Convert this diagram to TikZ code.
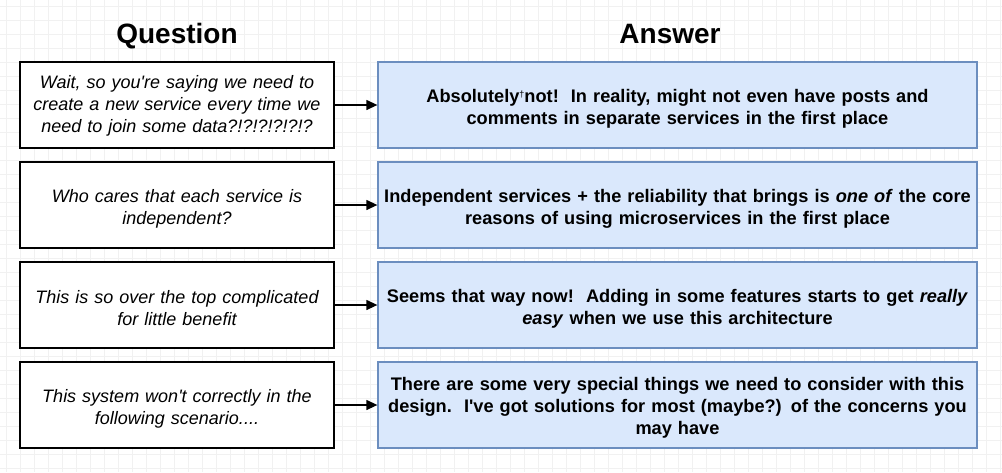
\documentclass[tikz,border=0pt]{standalone}
\usepackage{fontspec}
\setmainfont{Liberation Sans}
\usetikzlibrary{arrows.meta}
\definecolor{gridc}{HTML}{F1F1F1}
\definecolor{ansfill}{HTML}{DAE8FC}
\definecolor{ansdraw}{HTML}{6C8EBF}
\newcommand{\sq}{\textquotesingle}
\tikzset{
  qbox/.style={draw=black, line width=1.3pt, fill=white, minimum width=314pt, minimum height=86pt, text width=306pt, align=center, inner sep=0pt,
    font=\fontsize{18}{22}\selectfont\itshape},
  abox/.style={draw=ansdraw, line width=1.3pt, fill=ansfill, minimum width=599pt, minimum height=86pt, text width=590pt, align=center, inner sep=0pt,
    font=\fontsize{18.2}{22}\selectfont\bfseries},
  downby/.style={execute at begin node={\rule{0pt}{#1}}},
  title/.style={font=\fontsize{28}{32}\selectfont\bfseries, anchor=base},
  conn/.style={-{Triangle[length=11pt,width=10pt]}, line width=1.3pt},
}
\begin{document}
\begin{tikzpicture}[x=1pt,y=-1pt]
\useasboundingbox (0,0) rectangle (1002,472);
\fill[white] (0,0) rectangle (1002,472);
\foreach \i in {0,...,72} {\draw[gridc, line width=0.8pt] (6+14*\i,0) -- (6+14*\i,472);}
\foreach \j in {0,...,34} {\draw[gridc, line width=0.8pt] (0,6+14*\j) -- (1002,6+14*\j);}
\node[title] (tq) at (177,43) {Question};
\node[title] (ta) at (670,43) {Answer};
\node[qbox, downby=15pt] (q1) at (177,105) {Wait, so you\sq re saying we need to create a new service every time we need to join some data?!?!?!?!?!?};
\node[qbox, downby=20pt] (q2) at (177,205) {Who cares that each service is\\ independent?};
\node[qbox, downby=20pt] (q3) at (177,305) {This is so over the top complicated\\ for little benefit};
\node[qbox, downby=20pt] (q4) at (177,405) {This system won\sq t correctly in the\\ following scenario....};
\node[abox, downby=20pt] (a1) at (677.5,105) {Absolutely\raisebox{0.45ex}{\fontsize{9}{9}\selectfont\mdseries †}not!\ \ In reality, might not even have posts and\\ comments in separate services in the first place};
\node[abox, downby=20pt] (a2) at (677.5,205) {Independent services + the reliability that brings is \textit{one of} the core\\ reasons of using microservices in the first place};
\node[abox, downby=20pt] (a3) at (677.5,305) {Seems that way now!\ \ Adding in some features starts to get \textit{really}\\ \textit{easy} when we use this architecture};
\node[abox, downby=19pt] (a4) at (677.5,405) {There are some very special things we need to consider with this\\ design.\ \ I\sq ve got solutions for most (maybe?) of the concerns you\\ may have};
\draw[conn] (q1) -- (a1);
\draw[conn] (q2) -- (a2);
\draw[conn] (q3) -- (a3);
\draw[conn] (q4) -- (a4);
\end{tikzpicture}
\end{document}
